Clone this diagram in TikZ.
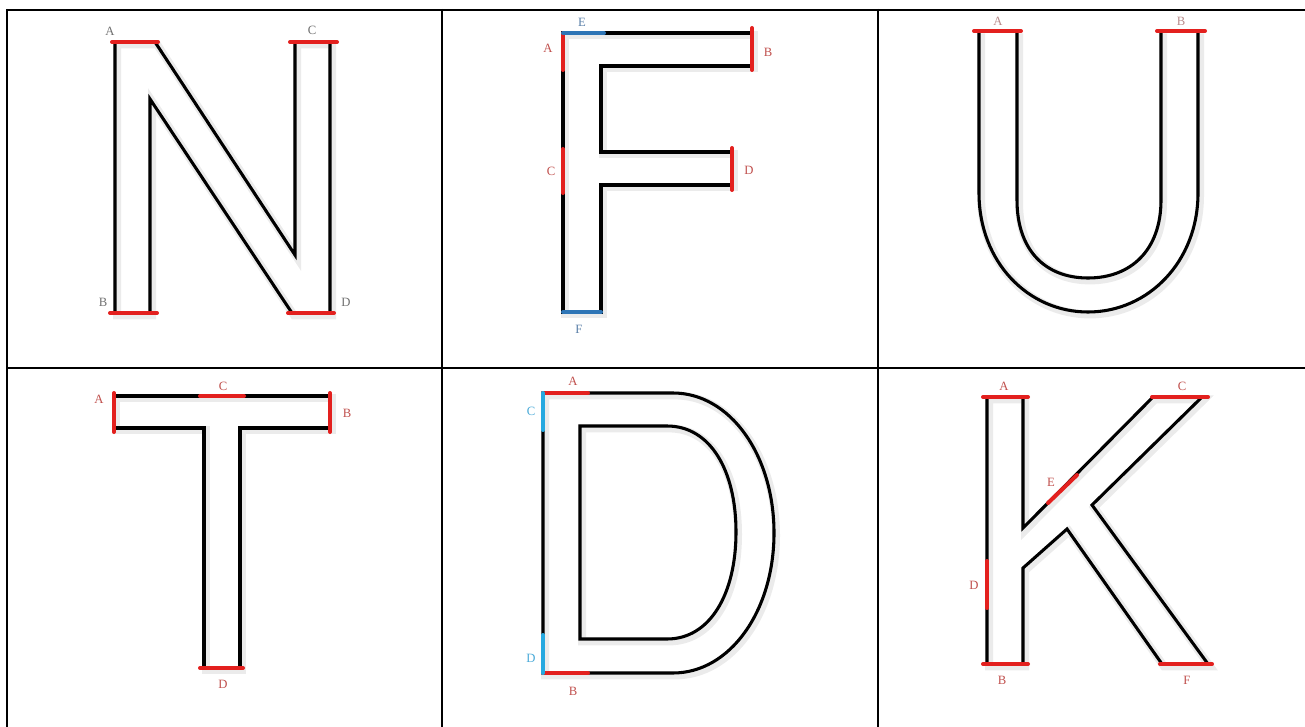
\documentclass[tikz,border=0pt]{standalone}
\usepackage{fontspec}
\setmainfont{Liberation Serif}
\definecolor{barred}{HTML}{E3201E}
\definecolor{labred}{HTML}{C0504D}
\definecolor{labgrey}{HTML}{707070}
\definecolor{labpink}{HTML}{B88A8A}
\definecolor{barblue}{HTML}{2E75B6}
\definecolor{labblue}{HTML}{5A7FA8}
\definecolor{barcyan}{HTML}{26A9E0}
\definecolor{labcyan}{HTML}{4AAAD8}
\tikzset{
  outl/.style={draw=black, line width=2.3pt, line join=miter,
    preaction={draw=black, draw opacity=0.08, line width=6pt,
      transform canvas={xshift=1.5pt, yshift=-1.8pt}}},
  redbar/.style={draw=barred, line width=3pt, line cap=round},
  bluebar/.style={draw=barblue, line width=3pt, line cap=round},
  cyanbar/.style={draw=barcyan, line width=3pt, line cap=round},
  grid/.style={draw=black, line width=1.6pt},
  lab/.style={inner sep=0pt, font=\fontsize{9.5}{10}\selectfont},
}
\begin{document}
\begin{tikzpicture}[x=0.75pt, y=-0.75pt]
\useasboundingbox (0,0) rectangle (1305,727);
% table grid
\draw[grid] (6,10) -- (1305,10);
\draw[grid] (6,368) -- (1305,368);
\draw[grid] (7,9) -- (7,727);
\draw[grid] (442,9) -- (442,727);
\draw[grid] (878,9) -- (878,727);

% ---- N ----
\draw[outl] (115,42) -- (155,42) -- (295,255) -- (295,42) -- (330,42) -- (330,313)
  -- (292,313) -- (150,99) -- (150,313) -- (115,313) -- cycle;
\draw[redbar] (112,42) -- (158,42);
\draw[redbar] (110,313) -- (157,313);
\draw[redbar] (290,42) -- (337,42);
\draw[redbar] (288,313) -- (334,313);
\node[lab, text=labgrey] (nA) at (110,31) {A};
\node[lab, text=labgrey] (nC) at (312,30) {C};
\node[lab, text=labgrey] (nB) at (103,302) {B};
\node[lab, text=labgrey] (nD) at (346,302) {D};

% ---- F ----
\draw[outl] (563,33) -- (752,33) -- (752,66) -- (601,66) -- (601,152) -- (732,152)
  -- (732,185) -- (601,185) -- (601,312) -- (563,312) -- cycle;
\draw[redbar] (752,28) -- (752,70);
\draw[redbar] (732,148) -- (732,190);
\draw[redbar] (563,33) -- (563,70);
\draw[redbar] (563,149) -- (563,193);
\draw[bluebar] (563,33) -- (604,33);
\draw[bluebar] (563,312) -- (601,312);
\node[lab, text=labblue] (fE) at (582,22) {E};
\node[lab, text=labred] (fA) at (548,48) {A};
\node[lab, text=labred] (fB) at (768,52) {B};
\node[lab, text=labred] (fC) at (551,171) {C};
\node[lab, text=labred] (fD) at (749,170) {D};
\node[lab, text=labblue] (fF) at (579,329) {F};

% ---- U ----
\draw[outl] (979,31) -- (979,193) .. controls (979,262) and (1028,312) .. (1088,312)
  .. controls (1148,312) and (1198,262) .. (1198,193) -- (1198,31);
\draw[outl] (1017,31) -- (1017,200) .. controls (1017,250) and (1045,278) .. (1088,278)
  .. controls (1131,278) and (1161,250) .. (1161,200) -- (1161,31);
\draw[redbar] (974,31) -- (1021,31);
\draw[redbar] (1157,31) -- (1205,31);
\node[lab, text=labpink] (uA) at (998,21) {A};
\node[lab, text=labpink] (uB) at (1181,21) {B};

% ---- T ----
\draw[outl] (114,396) -- (330,396) -- (330,428) -- (240,428) -- (240,668) -- (204,668)
  -- (204,428) -- (114,428) -- cycle;
\draw[redbar] (114,393) -- (114,432);
\draw[redbar] (330,393) -- (330,432);
\draw[redbar] (200,396) -- (244,396);
\draw[redbar] (200,668) -- (243,668);
\node[lab, text=labred] (tA) at (99,399) {A};
\node[lab, text=labred] (tC) at (223,386) {C};
\node[lab, text=labred] (tB) at (347,413) {B};
\node[lab, text=labred] (tD) at (223,684) {D};

% ---- D ----
\draw[outl] (543,393) -- (673,393) .. controls (730,393) and (774,455) .. (774,533)
  .. controls (774,611) and (730,673) .. (673,673) -- (543,673) -- cycle;
\draw[outl] (580,426) -- (667,426) .. controls (710,426) and (736,470) .. (736,532)
  .. controls (736,594) and (710,639) .. (667,639) -- (580,639) -- cycle;
\draw[redbar] (543,393) -- (588,393);
\draw[redbar] (543,673) -- (588,673);
\draw[cyanbar] (543,393) -- (543,430);
\draw[cyanbar] (543,635) -- (543,673);
\node[lab, text=labred] (dA) at (573,381) {A};
\node[lab, text=labcyan] (dC) at (531,411) {C};
\node[lab, text=labcyan] (dD) at (531,658) {D};
\node[lab, text=labred] (dB) at (573,691) {B};

% ---- K ----
\draw[outl] (987,397) -- (1023,397) -- (1023,528) -- (1153,397) -- (1202,397) -- (1092,505)
  -- (1208,664) -- (1162,664) -- (1067,529) -- (1023,568) -- (1023,664) -- (987,664) -- cycle;
\draw[redbar] (983,397) -- (1028,397);
\draw[redbar] (983,664) -- (1028,664);
\draw[redbar] (1152,397) -- (1208,397);
\draw[redbar] (1160,664) -- (1212,664);
\draw[redbar] (1048,503) -- (1077,475);
\draw[redbar] (987,561) -- (987,608);
\node[lab, text=labred] (kA) at (1004,386) {A};
\node[lab, text=labred] (kC) at (1182,386) {C};
\node[lab, text=labred] (kE) at (1051,482) {E};
\node[lab, text=labred] (kD) at (974,585) {D};
\node[lab, text=labred] (kB) at (1002,680) {B};
\node[lab, text=labred] (kF) at (1187,680) {F};
\end{tikzpicture}
\end{document}
